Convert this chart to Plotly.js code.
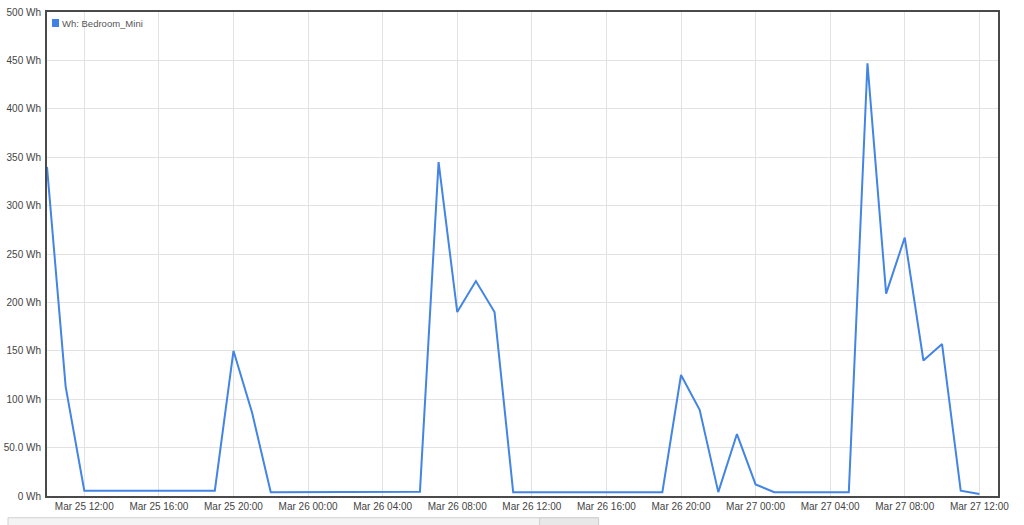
<!DOCTYPE html>
<html>
<head>
<meta charset="utf-8">
<script src="https://cdn.plot.ly/plotly-3.0.1.min.js"></script>
<style>
html,body{margin:0;padding:0;background:#fff;}
#chart{width:1024px;height:525px;}
</style>
</head>
<body>
<div id="chart"></div>
<script>
// Hourly readings, Mar 25 10:00 -> Mar 27 12:00
const startTime = "2023-03-25T10:00:00";
const seriesName = "Wh: Bedroom_Mini";
const whValues = [
  340, 113, 5.5, 5.5, 5.5, 5.5, 5, 5, 5.5, 5.5, 150, 86,
  4, 4, 4, 4, 4, 4, 4, 4, 4.5, 345, 190, 222, 190,
  4, 4, 4, 4, 4, 4, 4, 4, 4, 125, 89, 4, 64, 12,
  4, 4, 4, 4, 4, 447, 209, 267, 140, 157, 5.5, 2
];
const yTickVals = [0, 50, 100, 150, 200, 250, 300, 350, 400, 450, 500];
const yTickText = ["0 Wh", "50.0 Wh", "100 Wh", "150 Wh", "200 Wh", "250 Wh", "300 Wh", "350 Wh", "400 Wh", "450 Wh", "500 Wh"];

const t0 = new Date(startTime + "Z").getTime();
function fmt(ms){
  const d = new Date(ms);
  const p = n => String(n).padStart(2, "0");
  return d.getUTCFullYear() + "-" + p(d.getUTCMonth()+1) + "-" + p(d.getUTCDate()) + " " + p(d.getUTCHours()) + ":" + p(d.getUTCMinutes());
}
const xs = whValues.map((v, i) => fmt(t0 + i * 3600000));

const trace = {
  x: xs, y: whValues, type: "scatter", mode: "lines", name: seriesName,
  line: {color: "#4285e4", width: 2}, showlegend: false
};

const layout = {
  width: 1024, height: 525,
  margin: {l: 47, r: 26, t: 12, b: 29},
  paper_bgcolor: "#fff", plot_bgcolor: "#fff",
  font: {family: "Liberation Sans, Arial, sans-serif", size: 10, color: "#444"},
  xaxis: {
    type: "date",
    range: ["2023-03-25 10:00", "2023-03-27 13:00"],
    tick0: "2023-03-25 00:00", dtick: 4 * 3600000,
    tickformat: "%b %d %H:%M",
    showgrid: true, gridcolor: "#e2e2e2", gridwidth: 1,
    showline: true, linecolor: "#4a4a4a", linewidth: 2, mirror: true,
    ticks: "", zeroline: false,
    tickfont: {size: 10, color: "#444"}
  },
  yaxis: {
    range: [0, 500],
    tickvals: yTickVals, ticktext: yTickText,
    showgrid: true, gridcolor: "#e2e2e2", gridwidth: 1,
    showline: true, linecolor: "#4a4a4a", linewidth: 2, mirror: true,
    ticks: "", zeroline: false,
    tickfont: {size: 10, color: "#444"},
    ticklabelstandoff: 2
  },
  shapes: [
    {type: "rect", xref: "paper", yref: "paper", x0: 0.0053, x1: 0.0126, y0: 0.969, y1: 0.9855,
     fillcolor: "#3f7fe8", line: {width: 0}},
    {type: "rect", xref: "paper", yref: "paper", x0: -0.041, x1: 0.580, y0: -0.045, y1: -0.070,
     fillcolor: "#f4f4f4", line: {color: "#d0d0d0", width: 1}},
    {type: "rect", xref: "paper", yref: "paper", x0: 0.518, x1: 0.580, y0: -0.045, y1: -0.070,
     fillcolor: "#e8e8e8", line: {color: "#cfcfcf", width: 1}}
  ],
  annotations: [
    {xref: "paper", yref: "paper", x: 0.0135, y: 0.977, xanchor: "left", yanchor: "middle",
     text: seriesName, showarrow: false, font: {size: 9.5, color: "#555"}}
  ]
};

Plotly.newPlot("chart", [trace], layout, {displayModeBar: false, staticPlot: true});
</script>
</body>
</html>
